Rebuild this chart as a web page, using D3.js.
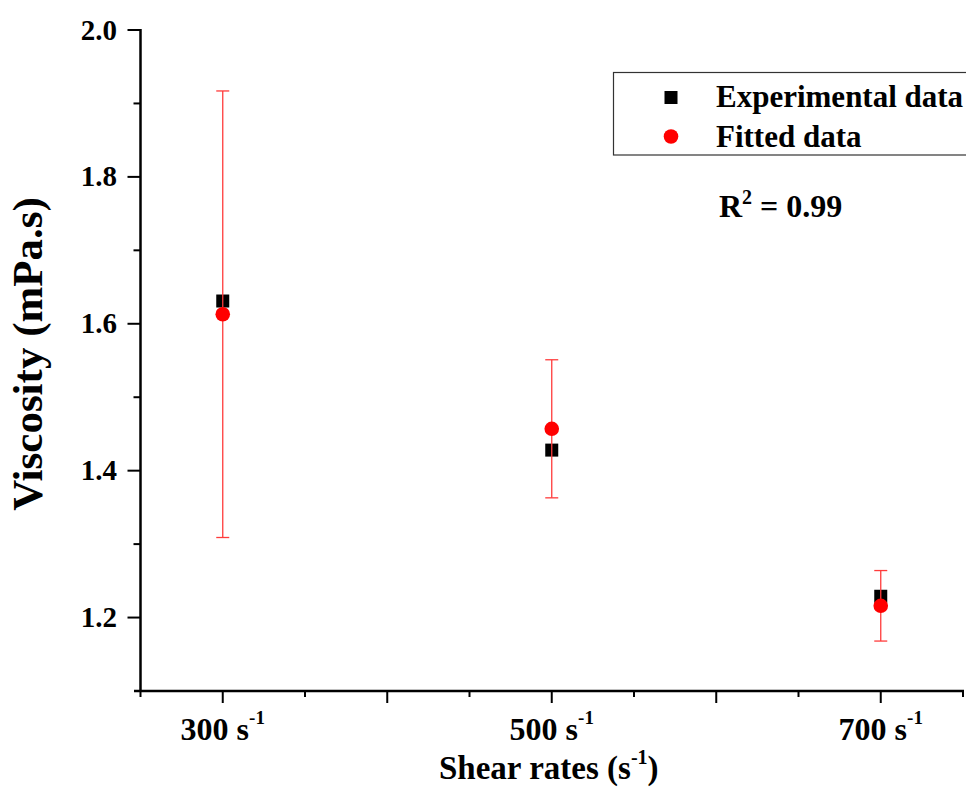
<!DOCTYPE html>
<html>
<head>
<meta charset="utf-8">
<script src="https://cdn.jsdelivr.net/npm/d3@7"></script>
<style>
  html, body { margin: 0; padding: 0; background: #ffffff; }
  svg { display: block; }
  text { font-family: "Liberation Serif", "Times New Roman", serif; font-weight: bold; fill: #000; }
</style>
</head>
<body>
<svg id="chart" width="966" height="787"></svg>
<script>
// ---- Data ----
const shearRates = [300, 500, 700];
const experimental = [1.631, 1.428, 1.229];
const fitted = [1.613, 1.457, 1.216];
const fittedErr = [0.304, 0.094, 0.048];
const xTickLabels = ["300", "500", "700"];
const yTickValues = [1.2, 1.4, 1.6, 1.8, 2.0];
const legendLabels = ["Experimental data", "Fitted data"];
const rSquared = "0.99";

const svg = d3.select("#chart");

const x = d3.scaleLinear().domain([250, 750]).range([140.5, 963]);
const y = d3.scaleLinear().domain([1.1, 2.0]).range([691, 30]);

// ---- Y axis ----
const yMinor = d3.range(1.1, 2.0001, 0.1).map(v => +v.toFixed(1)).filter(v => !yTickValues.includes(v) && v > 1.1);
const gy = svg.append("g");
gy.append("line").attr("x1", x(250)).attr("x2", x(250)).attr("y1", y(2.0) - 1).attr("y2", y(1.1))
  .attr("stroke", "#000").attr("stroke-width", 2.5);
gy.selectAll("line.major").data(yTickValues).enter().append("line")
  .attr("x1", x(250) - 13).attr("x2", x(250)).attr("y1", d => y(d)).attr("y2", d => y(d))
  .attr("stroke", "#000").attr("stroke-width", 2);
gy.selectAll("line.minor").data(yMinor).enter().append("line")
  .attr("x1", x(250) - 7).attr("x2", x(250)).attr("y1", d => y(d)).attr("y2", d => y(d))
  .attr("stroke", "#000").attr("stroke-width", 2);
gy.selectAll("text").data(yTickValues).enter().append("text")
  .attr("x", 117).attr("y", d => y(d) + 9.5)
  .attr("text-anchor", "end").style("font-size", "29px")
  .text(d => d.toFixed(1));

// ---- X axis ----
const xMajor = [300, 400, 500, 600, 700];
const xMinor = [250, 350, 450, 550, 650, 750];
const gx = svg.append("g");
gx.append("line").attr("x1", 134).attr("x2", x(750) + 1).attr("y1", y(1.1)).attr("y2", y(1.1))
  .attr("stroke", "#000").attr("stroke-width", 2.5);
gx.selectAll("line.major").data(xMajor).enter().append("line")
  .attr("x1", d => x(d)).attr("x2", d => x(d)).attr("y1", y(1.1)).attr("y2", y(1.1) + 12)
  .attr("stroke", "#000").attr("stroke-width", 2);
gx.selectAll("line.minor").data(xMinor).enter().append("line")
  .attr("x1", d => x(d)).attr("x2", d => x(d)).attr("y1", y(1.1)).attr("y2", y(1.1) + 6)
  .attr("stroke", "#000").attr("stroke-width", 2);
const xl = gx.selectAll("text").data(shearRates).enter().append("text")
  .attr("x", d => x(d)).attr("y", 740)
  .attr("text-anchor", "middle").style("font-size", "32px");
xl.append("tspan").text((d, i) => xTickLabels[i] + " s");
xl.append("tspan").attr("dy", -16).style("font-size", "19px").text("-1");

// ---- Axis titles ----
svg.append("text")
  .attr("transform", "translate(42,354) rotate(-90)")
  .attr("text-anchor", "middle").style("font-size", "43px")
  .text("Viscosity (mPa.s)");
const xt = svg.append("text").attr("x", 439).attr("y", 779).style("font-size", "33px");
xt.append("tspan").text("Shear rates (s");
xt.append("tspan").attr("dy", -15).style("font-size", "20px").text("-1");
xt.append("tspan").attr("dy", 15).text(")");

// ---- Data marks ----
const sq = 13;
svg.selectAll("rect.exp").data(shearRates).enter().append("rect")
  .attr("x", d => x(d) - sq / 2).attr("y", (d, i) => y(experimental[i]) - sq / 2)
  .attr("width", sq).attr("height", sq).attr("fill", "#000");

const errColor = "#ff3b3b";
const eb = svg.append("g").attr("stroke", errColor).attr("stroke-width", 1.3);
shearRates.forEach((d, i) => {
  const top = y(fitted[i] + fittedErr[i]), bot = y(fitted[i] - fittedErr[i]);
  eb.append("line").attr("x1", x(d)).attr("x2", x(d)).attr("y1", top).attr("y2", bot);
  eb.append("line").attr("x1", x(d) - 6.5).attr("x2", x(d) + 6.5).attr("y1", top).attr("y2", top);
  eb.append("line").attr("x1", x(d) - 6.5).attr("x2", x(d) + 6.5).attr("y1", bot).attr("y2", bot);
});

svg.selectAll("circle.fit").data(shearRates).enter().append("circle")
  .attr("cx", d => x(d)).attr("cy", (d, i) => y(fitted[i]))
  .attr("r", 7.3).attr("fill", "#ff0000");

// ---- Legend ----
svg.append("rect").attr("x", 613.5).attr("y", 72.5).attr("width", 370).attr("height", 82.5)
  .attr("fill", "none").attr("stroke", "#333").attr("stroke-width", 1.2);
svg.append("rect").attr("x", 671 - 6.5).attr("y", 97.5 - 6.5).attr("width", 13).attr("height", 13).attr("fill", "#000");
svg.append("circle").attr("cx", 671).attr("cy", 136.5).attr("r", 7.3).attr("fill", "#ff0000");
svg.append("text").attr("x", 716).attr("y", 107).style("font-size", "31px").text(legendLabels[0]);
svg.append("text").attr("x", 716).attr("y", 147).style("font-size", "31px").text(legendLabels[1]);

// ---- R squared ----
const rt = svg.append("text").attr("x", 719).attr("y", 217).style("font-size", "32px");
rt.append("tspan").text("R");
rt.append("tspan").attr("dy", -13).style("font-size", "20px").text("2");
rt.append("tspan").attr("dy", 13).text(" = " + rSquared);
</script>
</body>
</html>
